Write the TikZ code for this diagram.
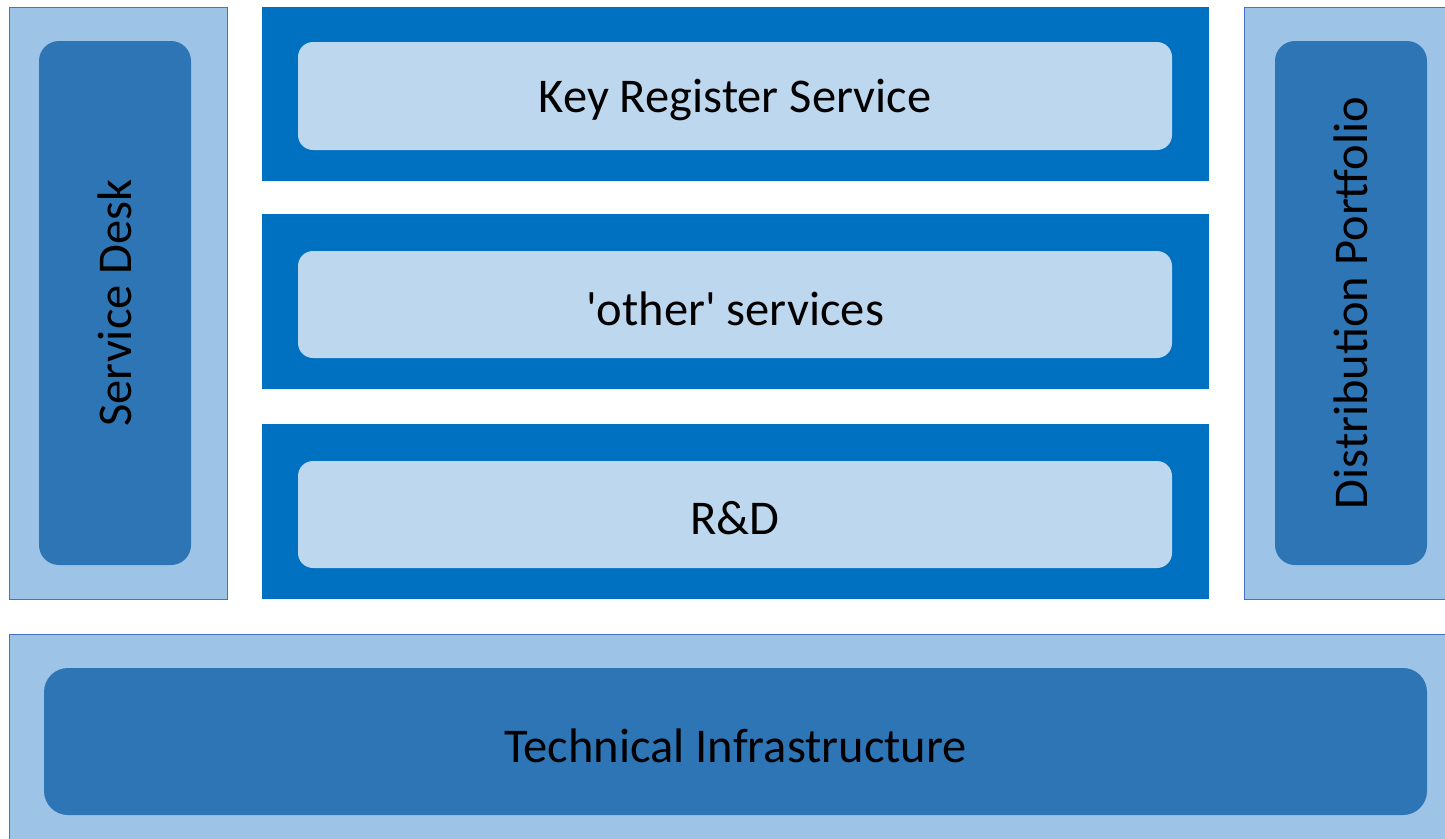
\documentclass[tikz,border=0pt]{standalone}
\usepackage{fontspec}
\newfontfamily\boxfont{Carlito}
\definecolor{paleblue}{HTML}{9DC3E6}
\definecolor{midblue}{HTML}{2E75B6}
\definecolor{deepblue}{HTML}{0070C0}
\definecolor{lightblue}{HTML}{BDD7EE}
\definecolor{edgeblue}{HTML}{4472C4}
\begin{document}
\begin{tikzpicture}[x=1pt,y=-1pt,
  box/.style={rectangle,inner sep=0pt,anchor=center},
  outerbox/.style={box,fill=paleblue,draw=edgeblue,line width=0.8pt},
  pillar/.style={box,fill=midblue,rounded corners=20pt},
  band/.style={box,fill=deepblue},
  service/.style={box,fill=lightblue,rounded corners=15pt},
  label/.style={font=\boxfont\fontsize{48.5}{56}\selectfont,text=black,inner sep=0pt},
  hlabel/.style={label,yshift=-4pt}]
\useasboundingbox (0,0) rectangle (1445,838);

% side columns
\node[outerbox,minimum width=218pt,minimum height=592pt] (deskframe) at (118,303) {};
\node[pillar,minimum width=152pt,minimum height=524pt] (desk) at (115,303) {};
\node[label,rotate=90] (desklabel) at (desk.center) {Service Desk};

\node[outerbox,minimum width=204pt,minimum height=592pt] (distframe) at (1346,303) {};
\node[pillar,minimum width=152pt,minimum height=524pt] (dist) at (1351,303) {};
\node[label,rotate=90] (distlabel) at (dist.center) {Distribution Portfolio};

% central service bands
\node[band,minimum width=947pt,minimum height=174pt] (band1) at (735.5,94) {};
\node[service,minimum width=874pt,minimum height=108pt] (keyreg) at (735,96) {};
\node[hlabel] (keyreglabel) at (keyreg.center) {Key Register Service};

\node[band,minimum width=947pt,minimum height=175pt] (band2) at (735.5,301.5) {};
\node[service,minimum width=874pt,minimum height=107pt] (other) at (735,304.5) {};
\node[hlabel] (otherlabel) at (other.center) {'other' services};

\node[band,minimum width=947pt,minimum height=175pt] (band3) at (735.5,511.5) {};
\node[service,minimum width=874pt,minimum height=107pt] (rd) at (735,514.5) {};
\node[hlabel] (rdlabel) at (rd.center) {R\&D};

% infrastructure base
\node[outerbox,minimum width=1440pt,minimum height=208pt] (baseframe) at (729,738) {};
\node[pillar,rounded corners=24pt,minimum width=1383pt,minimum height=147pt] (infra) at (735.5,741.5) {};
\node[hlabel] (infralabel) at (infra.center) {Technical Infrastructure};
\end{tikzpicture}
\end{document}
